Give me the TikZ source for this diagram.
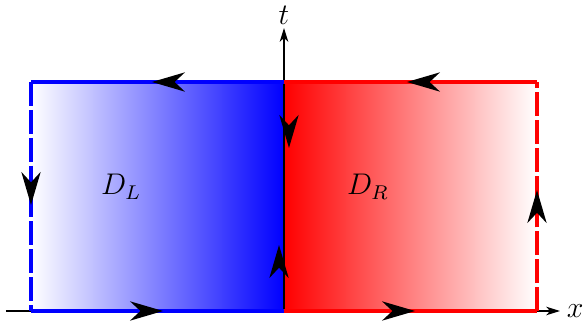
\documentclass[tikz,border=0pt]{standalone}
\usetikzlibrary{arrows.meta,decorations.markings}
\begin{document}
\begin{tikzpicture}[x=0.4016pt,y=-0.4016pt,
  bigtip/.style={decoration={markings,mark=at position #1 with {\arrow{Stealth[length=13.3pt,width=7.8pt,inset=4.2pt,color=black,fill=black,line width=0pt]}}},postaction={decorate}},
  border/.style={line width=1.6pt},
  dashedborder/.style={line width=1.6pt,dash pattern=on 9.6pt off 1.6pt},
  axis/.style={line width=0.5pt,-{Stealth[length=5.5pt,width=3.4pt,inset=1.5pt]}},
  lbl/.style={inner sep=0pt,font=\large}]
\useasboundingbox (0,0) rectangle (588,325);
% corners
\coordinate (TL) at (31,82);
\coordinate (BL) at (31,311);
\coordinate (TM) at (284,82);
\coordinate (BM) at (284,311);
\coordinate (TR) at (537,82);
\coordinate (BR) at (537,311);
\coordinate (xs) at (6,311);
\coordinate (xe) at (560,311);
\coordinate (ts) at (284,311);
\coordinate (te) at (284,28);
% shadings
\shade[left color=white,right color=blue] (TL) rectangle (BM);
\shade[left color=red,right color=white] (TM) rectangle (BR);
% axes
\draw[axis] (xs) -- (xe) node[lbl,anchor=west,xshift=2.5pt] (xl) {$x$};
\draw[axis] (ts) -- (te) node[lbl,anchor=south,yshift=1pt] (tl) {$t$};
% left region boundary
\draw[blue,border,bigtip=0.522] (BL) -- (BM);
\draw[blue,border,bigtip=0.522] (TM) -- (TL);
\draw[blue,dashedborder] (TL) -- (BL);
\path[bigtip=0.537] (TL) -- (BL);
\path[bigtip=0.288] ([xshift=-2]BM) -- ([xshift=-2]TM);
% right region boundary
\draw[red,border,bigtip=0.518] (BM) -- (BR);
\draw[red,border,bigtip=0.514] (TR) -- (TM);
\draw[red,dashedborder] (BR) -- (TR);
\path[bigtip=0.528] (BR) -- (TR);
\path[bigtip=0.288] ([xshift=2]TM) -- ([xshift=2]BM);
% labels
\node[lbl] (DL) at (121,187) {$D_L$};
\node[lbl] (DR) at (368,187) {$D_R$};
\end{tikzpicture}
\end{document}
